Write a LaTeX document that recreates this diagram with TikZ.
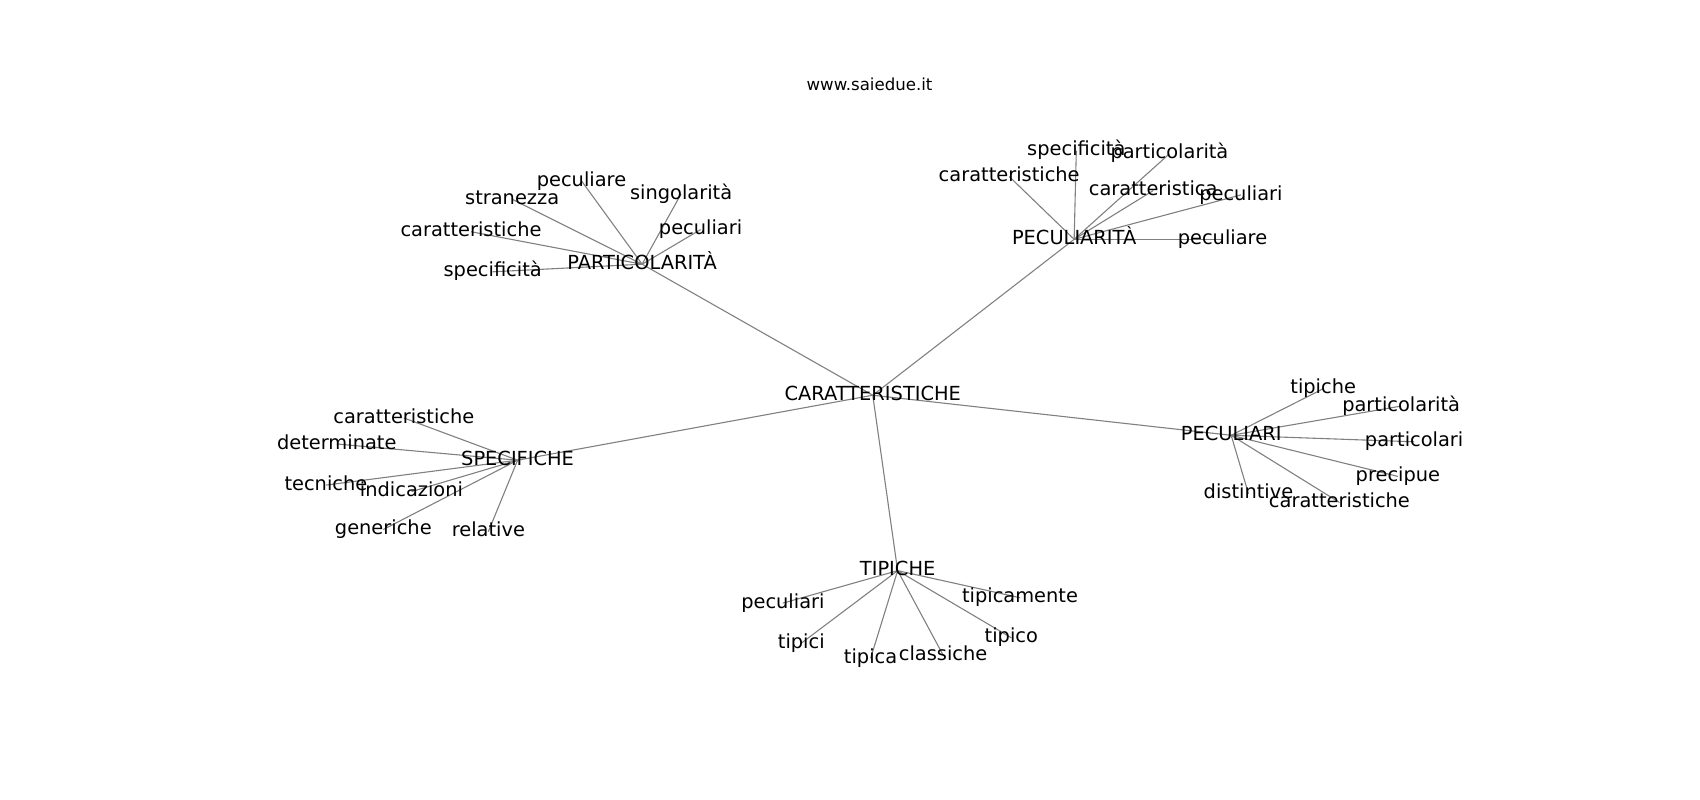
\documentclass[tikz,border=0pt]{standalone}
\usepackage{fontspec}
\setmainfont{DejaVu Sans}
\usetikzlibrary{backgrounds}

\begin{document}
\begin{tikzpicture}[x=0.5415pt,y=-0.5415pt,semithick]
		\tikzstyle{word}=[inner sep=0pt,text height=0.76em,text depth=0.24em,font=\fontsize{9.7}{11}\selectfont]
		\tikzstyle{link}=[draw=gray,line width=0.55pt]

		\useasboundingbox (0,-2) rectangle (1570,736.8);
		\node[inner sep=0pt,font=\fontsize{8.3}{10}\selectfont] (t) at (803,76) {www.saiedue.it};

		\node[word] (c) at (806,363) {CARATTERISTICHE};
		\node[word] (1) at (593,242) {PARTICOLARITÀ};
		\node[word] (2) at (992,219) {PECULIARITÀ};
		\node[word] (3) at (478,423) {SPECIFICHE};
		\node[word] (4) at (1137,400) {PECULIARI};
		\node[word] (5) at (829,525) {TIPICHE};

		% PARTICOLARITÀ
		\node[word] (11) at (537,165) {peculiare};
		\node[word] (12) at (629,177) {singolarità};
		\node[word] (13) at (473,182) {stranezza};
		\node[word] (14) at (435,212) {caratteristiche};
		\node[word] (15) at (647,210) {peculiari};
		\node[word] (16) at (455,249) {specificità};

		% PECULIARITÀ
		\node[word] (21) at (994,137) {specificità};
		\node[word] (22) at (1080,140) {particolarità};
		\node[word] (23) at (932,161) {caratteristiche};
		\node[word] (24) at (1065,174) {caratteristica};
		\node[word] (25) at (1146,178) {peculiari};
		\node[word] (26) at (1129,219) {peculiare};

		% SPECIFICHE
		\node[word] (31) at (373,384) {caratteristiche};
		\node[word] (32) at (311,408) {determinate};
		\node[word] (33) at (301,446) {tecniche};
		\node[word] (34) at (380,452) {indicazioni};
		\node[word] (35) at (354,487) {generiche};
		\node[word] (36) at (451,489) {relative};

		% PECULIARI
		\node[word] (41) at (1222,357) {tipiche};
		\node[word] (42) at (1294,373) {particolarità};
		\node[word] (43) at (1306,406) {particolari};
		\node[word] (44) at (1291,438) {precipue};
		\node[word] (45) at (1153,454) {distintive};
		\node[word] (46) at (1237,462) {caratteristiche};

		% TIPICHE
		\node[word] (51) at (723,555) {peculiari};
		\node[word] (52) at (942,550) {tipicamente};
		\node[word] (53) at (740,592) {tipici};
		\node[word] (54) at (934,587) {tipico};
		\node[word] (55) at (804,606) {tipica};
		\node[word] (56) at (871,603) {classiche};

		\begin{scope}[on background layer]
		\path[link]
		(c.center) edge (1.center) edge (2.center) edge (3.center) edge (4.center) edge (5.center)
		(1.center) edge (11.center) edge (12.center) edge (13.center) edge (14.center) edge (15.center) edge (16.center)
		(2.center) edge (21.center) edge (22.center) edge (23.center) edge (24.center) edge (25.center) edge (26.center)
		(3.center) edge (31.center) edge (32.center) edge (33.center) edge (34.center) edge (35.center) edge (36.center)
		(4.center) edge (41.center) edge (42.center) edge (43.center) edge (44.center) edge (45.center) edge (46.center)
		(5.center) edge (51.center) edge (52.center) edge (53.center) edge (54.center) edge (55.center) edge (56.center);
		\end{scope}
	\end{tikzpicture}
\end{document}
